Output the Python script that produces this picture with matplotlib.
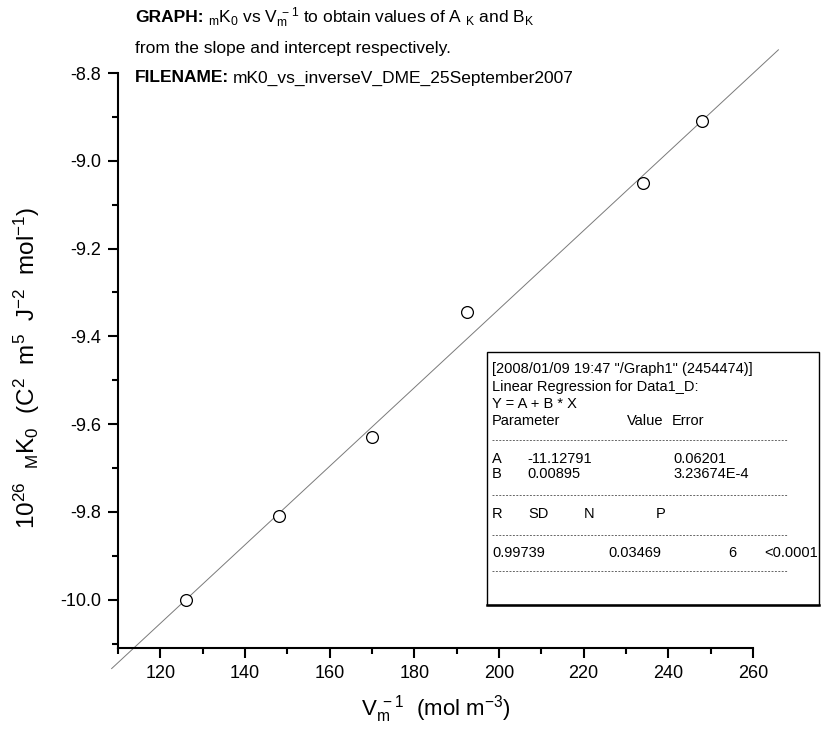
import numpy as np
import matplotlib
matplotlib.use("Agg")
import matplotlib.pyplot as plt
from matplotlib.ticker import MultipleLocator
from matplotlib.patches import Rectangle
from matplotlib.lines import Line2D

plt.rcParams['font.family'] = ['Liberation Sans', 'DejaVu Sans']
plt.rcParams['mathtext.fontset'] = 'custom'
plt.rcParams['mathtext.rm'] = 'Liberation Sans'
plt.rcParams['mathtext.it'] = 'Liberation Sans'
plt.rcParams['mathtext.bf'] = 'Liberation Sans:bold'

# data
v_inv = [126, 148, 170, 192.5, 234, 248]
mk0 = [-10.0, -9.81, -9.63, -9.345, -9.05, -8.91]

# fit result printed in the box
A_fit = -11.12791
B_fit = 0.00895
fit_x = np.array([108.5, 266.0])

x_ticks = [120, 140, 160, 180, 200, 220, 240, 260]
y_ticks = [-10.0, -9.8, -9.6, -9.4, -9.2, -9.0, -8.8]

W, H = 822, 738
def fx(p): return p / W
def fy(p): return 1 - p / H

fig = plt.figure(figsize=(W/100, H/100), dpi=100)
ax = fig.add_axes([fx(118), fy(648), (753-118)/W, (648-73)/H])

ax.plot(fit_x, A_fit + B_fit*fit_x, color="#7a7a7a", lw=0.7, clip_on=False, zorder=2)
ax.plot(v_inv, mk0, "o", mfc="white", mec="black", ms=8.5, mew=0.9, zorder=3)

ax.set_xlim(110, 260)
ax.set_ylim(-10.11, -8.8)
ax.set_xticks(x_ticks)
ax.set_yticks(y_ticks)
ax.set_yticklabels(["%.1f" % v for v in y_ticks])
ax.xaxis.set_minor_locator(MultipleLocator(10))
ax.yaxis.set_minor_locator(MultipleLocator(0.1))
ax.spines["top"].set_visible(False)
ax.spines["right"].set_visible(False)
for s in ["left", "bottom"]:
    ax.spines[s].set_linewidth(1.5)
ax.tick_params(which="major", direction="out", length=7, width=1.5, labelsize=13, pad=5)
ax.tick_params(which="minor", direction="out", length=4, width=1.5)

ax.set_xlabel(r"V$_{m}^{\ -1}$  (mol m$^{-3}$)", fontsize=16, labelpad=8)
fig.text(fx(27), fy(368), r"10$^{26}$  $_{M}$K$_{0}$  (C$^{2}$  m$^{5}$  J$^{-2}$  mol$^{-1}$)",
         rotation=90, ha="center", va="center", fontsize=17.5)

renderer = fig.canvas.get_renderer()

def bold_then_normal(x0, yc, bold, rest, fs):
    t = fig.text(fx(x0), fy(yc), bold, ha="left", va="center", fontsize=fs, fontweight="bold")
    w = t.get_window_extent(renderer).width
    fig.text(fx(x0 + w + 4), fy(yc), rest, ha="left", va="center", fontsize=fs)

# header text
head_fs = 12.5
bold_then_normal(135, 18, "GRAPH:",
                 r"$_{m}$K$_{0}$ vs V$_{m}^{\ -1}$ to obtain values of A $_{K}$ and B$_{K}$", head_fs)
fig.text(fx(135), fy(48), "from the slope and intercept respectively.", ha="left", va="center", fontsize=head_fs)
bold_then_normal(135, 78, "FILENAME:", "mK0_vs_inverseV_DME_25September2007", head_fs)

# regression report box
fig.patches.append(Rectangle((fx(487), fy(605)), (819-487)/W, (605-352)/H,
                             transform=fig.transFigure, fill=False, ec="black", lw=1.0))
fig.lines.append(Line2D([fx(487), fx(819)], [fy(605), fy(605)], transform=fig.transFigure,
                        color="black", lw=1.8))
box_fs = 10.5
rows = [
    (369, [(492, '[2008/01/09 19:47 "/Graph1" (2454474)]')]),
    (387, [(492, "Linear Regression for Data1_D:")]),
    (404, [(492, "Y = A + B * X")]),
    (421, [(492, "Parameter"), (627, "Value"), (672, "Error")]),
    (459, [(492, "A"), (527, "-11.12791"), (673, "0.06201")]),
    (474, [(492, "B"), (527, "0.00895"), (673, "3.23674E-4")]),
    (514, [(492, "R"), (528, "SD"), (584, "N"), (656, "P")]),
    (553, [(492, "0.99739"), (608, "0.03469"), (728, "6"), (764, "<0.0001")]),
]
for yy, cells in rows:
    for xx, s in cells:
        fig.text(fx(xx), fy(yy), s, ha="left", va="center", fontsize=box_fs)
for yy in [440, 495, 535, 571]:
    fig.lines.append(Line2D([fx(492), fx(788)], [fy(yy), fy(yy)], transform=fig.transFigure,
                            color="#666666", lw=0.7, ls=(0, (2, 1.5))))

fig.savefig("out.png", dpi=100)
